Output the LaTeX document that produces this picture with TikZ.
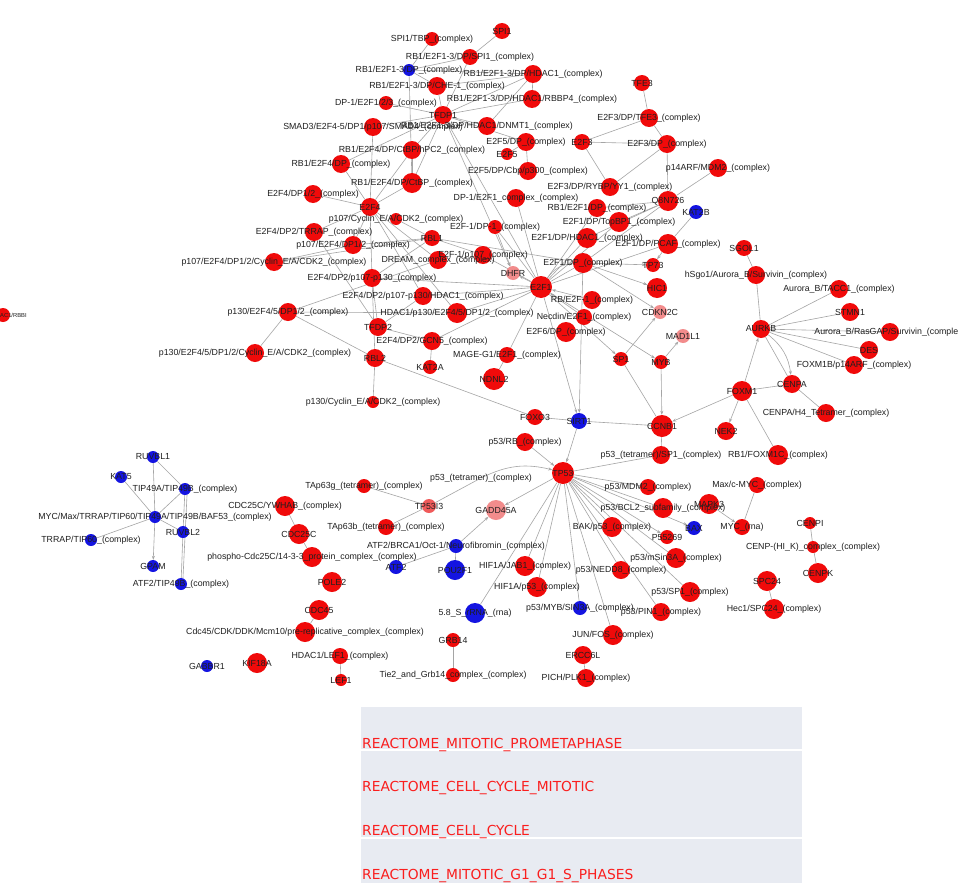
\documentclass[tikz,border=0pt]{standalone}
\usepackage{fontspec}
\setmainfont{Liberation Sans}
\newfontfamily\legfont{DejaVu Sans}
\usetikzlibrary{arrows.meta}
\pgfdeclarelayer{bg}\pgfdeclarelayer{fg}\pgfsetlayers{bg,main,fg}
\definecolor{nR}{RGB}{240,10,10}
\definecolor{nB}{RGB}{20,20,225}
\definecolor{nL}{RGB}{242,140,140}
\definecolor{nM}{RGB}{240,90,90}
\definecolor{edgec}{RGB}{165,165,165}
\definecolor{legbg}{RGB}{232,235,242}
\definecolor{legtx}{RGB}{250,30,30}
\newcommand\lblfont{\fontsize{8.8}{9}\selectfont}
\newcommand\gn[6]{%
 \node[dot, minimum size=#4*2pt, fill=#5] (#1) at (#2,-#3) {};%
 \begin{pgfonlayer}{fg}\node[lbl] at (#2,-#3) {#6};\end{pgfonlayer}}
\newcommand\gE[2]{\draw[edge] (#1) -- (#2);}
\newcommand\gA[2]{\draw[edge,arr] (#1) -- (#2);}
\begin{document}
\begin{tikzpicture}[x=1pt,y=1pt,
 dot/.style={circle, inner sep=0pt, draw=none},
 lbl/.style={font=\lblfont, text=black!88, inner sep=0pt},
 edge/.style={draw=edgec, line width=0.6pt},
 arr/.style={-{Stealth[length=4pt,width=3pt]}},
 legtext/.style={font=\legfont\fontsize{13.8}{14}\selectfont, text=legtx, anchor=base west, inner sep=0pt}]
\useasboundingbox (0,0) rectangle (958,-883);
\begin{pgfonlayer}{bg}
\fill[white] (0,0) rectangle (958,-883);
\end{pgfonlayer}
% ---------- top cluster
\gn{spiTBP}{432}{39}{7}{nR}{SPI1/TBP\_(complex)}
\gn{spi1}{502}{31}{8}{nR}{SPI1}
\gn{rbSPI}{470}{57}{8}{nR}{RB1/E2F1-3/DP/SPI1\_(complex)}
\gn{rbDP}{409}{70}{6}{nB}{RB1/E2F1-3/DP\_(complex)}
\gn{rbHDAC}{533}{74}{9}{nR}{RB1/E2F1-3/DP/HDAC1\_(complex)}
\gn{rbCHE}{437}{86}{9}{nR}{RB1/E2F1-3/DP/CHE-1\_(complex)}
\gn{rbRBBP}{532}{99}{9}{nR}{RB1/E2F1-3/DP/HDAC1/RBBP4\_(complex)}
\gn{dpOTT}{386}{103}{7}{nR}{DP-1/E2F1/2/3\_(complex)}
\gn{tfdp1}{443}{115}{9}{nR}{TFDP1}
\gn{smad}{373}{127}{9}{nR}{SMAD3/E2F4-5/DP1/p107/SMAD4\_(complex)}
\gn{dnmt}{487}{126}{9}{nR}{RB1/E2F1-3/DP/HDAC1/DNMT1\_(complex)}
\gn{hpc}{412}{150}{9}{nR}{RB1/E2F4/DP/CtBP/hPC2\_(complex)}
\gn{rbEfDP}{341}{164}{9}{nR}{RB1/E2F4/DP\_(complex)}
\gn{tfe}{642}{83}{8}{nR}{TFE3}
\gn{efTFE}{649}{118}{9}{nR}{E2F3/DP/TFE3\_(complex)}
\gn{efthree}{582}{142}{8}{nR}{E2F3}
\gn{efthreeDP}{667}{144}{9}{nR}{E2F3/DP\_(complex)}
\gn{effiveDP}{526}{142}{9}{nR}{E2F5/DP\_(complex)}
\gn{effive}{507}{154}{6}{nR}{E2F5}
\gn{cbp}{528}{171}{9}{nR}{E2F5/DP/Cbp/p300\_(complex)}
\gn{parf}{718}{168}{9}{nR}{p14ARF/MDM2\_(complex)}
\gn{effourDP}{313}{194}{9}{nR}{E2F4/DP1/2\_(complex)}
\gn{effour}{370}{207}{9}{nR}{E2F4}
\gn{pcyc}{396}{219}{6}{nR}{p107/Cyclin\_E/A/CDK2\_(complex)}
\gn{trrap}{314}{232}{9}{nR}{E2F4/DP2/TRRAP\_(complex)}
\gn{pef}{353}{245}{9}{nR}{p107/E2F4/DP1/2\_(complex)}
\gn{pcycb}{274}{262}{9}{nR}{p107/E2F4/DP1/2/Cyclin\_E/A/CDK2\_(complex)}
\gn{dptwo}{372}{278}{9}{nR}{E2F4/DP2/p107-p130\_(complex)}
\gn{pdp}{288}{312}{9}{nR}{p130/E2F4/5/DP1/2\_(complex)}
\gn{hdacp}{457}{313}{10}{nR}{HDAC1/p130/E2F4/5/DP1/2\_(complex)}
\gn{dptwoh}{423}{296}{9}{nR}{E2F4/DP2/p107-p130/HDAC1\_(complex)}
\gn{dream}{438}{260}{9}{nR}{DREAM\_complex\_(complex)}
\gn{gcn}{432}{341}{9}{nR}{E2F4/DP2/GCN5\_(complex)}
\gn{kata}{430}{367}{7}{nR}{KAT2A}
\gn{tfdp2}{378}{327}{9}{nR}{TFDP2}
\gn{rbl2}{375}{358}{9}{nR}{RBL2}
\gn{pccyc}{373}{402}{6}{nR}{p130/Cyclin\_E/A/CDK2\_(complex)}
\gn{pccycb}{255}{353}{9}{nR}{p130/E2F4/5/DP1/2/Cyclin\_E/A/CDK2\_(complex)}
\gn{ctbp}{412}{183}{10}{nR}{RB1/E2F4/DP/CtBP\_(complex)}
\gn{dpc}{516}{198}{9}{nR}{DP-1/E2F1\_complex\_(complex)}
\gn{rybp}{610}{187}{9}{nR}{E2F3/DP/RYBP/YY1\_(complex)}
\gn{qn}{668}{201}{10}{nR}{Q8N726}
\gn{katb}{696}{212}{7}{nB}{KAT2B}
\gn{rbedp}{597}{208}{9}{nR}{RB1/E2F1/DP\_(complex)}
\gn{topbp}{619}{222}{10}{nR}{E2F1/DP/TopBP1\_(complex)}
\gn{edpo}{495}{227}{7}{nR}{E2F-1/DP-1\_(complex)}
\gn{rbl1}{432}{238}{8}{nR}{RBL1}
\gn{ehdac}{587}{238}{10}{nR}{E2F1/DP/HDAC1\_(complex)}
\gn{pcaf}{668}{244}{10}{nR}{E2F1/DP/PCAF\_(complex)}
\gn{ep}{483}{255}{9}{nR}{E2F-1/p107\_(complex)}
\gn{edp}{583}{263}{10}{nR}{E2F1/DP\_(complex)}
\gn{tps}{653}{265}{7}{nR}{TP73}
\gn{dhfr}{513}{273}{7}{nL}{DHFR}
\gn{eone}{541}{287}{11}{nR}{E2F1}
\gn{hic}{657}{288}{10}{nR}{HIC1}
\gn{rbe}{592}{300}{9}{nR}{RB/E2F-1\_(complex)}
\gn{cdkn}{660}{312}{7}{nL}{CDKN2C}
\gn{necdin}{584}{317}{8}{nR}{Necdin/E2F1\_(complex)}
\gn{esix}{566}{332}{10}{nR}{E2F6/DP\_(complex)}
\gn{mad}{683}{336}{7}{nL}{MAD1L1}
\gn{spone}{621}{359}{7}{nR}{SP1}
\gn{myb}{661}{362}{7}{nR}{MYB}
\gn{mage}{507}{355}{8}{nR}{MAGE-G1/E2F1\_(complex)}
\gn{ndnl}{494}{379}{11}{nR}{NDNL2}
\gn{foxo}{535}{417}{8}{nR}{FOXO3}
\gn{sirt}{579}{421}{8}{nB}{SIRT1}
\gn{ccnb}{662}{426}{11}{nR}{CCNB1}
% ---------- right cluster
\gn{sgol}{744}{248}{8}{nR}{SGOL1}
\gn{hsgo}{756}{275}{9}{nR}{hSgo1/Aurora\_B/Survivin\_(complex)}
\gn{tacc}{839}{289}{9}{nR}{Aurora\_B/TACC1\_(complex)}
\gn{stmn}{850}{312}{9}{nR}{STMN1}
\gn{aurkb}{761}{329}{9}{nR}{AURKB}
\gn{rasgap}{890}{332}{9}{nR}{Aurora\_B/RasGAP/Survivin\_(complex)}
\gn{des}{869}{350}{9}{nR}{DES}
\gn{foxmb}{854}{365}{9}{nR}{FOXM1B/p14ARF\_(complex)}
\gn{cenpa}{792}{384}{9}{nR}{CENPA}
\gn{foxm}{742}{391}{10}{nR}{FOXM1}
\gn{hfour}{826}{413}{9}{nR}{CENPA/H4\_Tetramer\_(complex)}
\gn{nek}{726}{431}{9}{nR}{NEK2}
\gn{rbfox}{778}{455}{10}{nR}{RB1/FOXM1C\_(complex)}
% ---------- TP53 cluster
\gn{prb}{525}{442}{9}{nR}{p53/RB\_(complex)}
\gn{ptsp}{661}{455}{9}{nR}{p53\_(tetramer)/SP1\_(complex)}
\gn{tp}{563}{473}{11}{nR}{TP53}
\gn{ptet}{481}{478}{1}{none}{p53\_(tetramer)\_(complex)}
\gn{pmdm}{648}{487}{8}{nR}{p53/MDM2\_(complex)}
\gn{gadd}{496}{510}{10}{nL}{GADD45A}
\gn{mapk}{709}{504}{10}{nR}{MAPK3}
\gn{bcl}{663}{508}{10}{nR}{p53/BCL2\_subfamily\_(complex)}
\gn{bax}{694}{528}{7}{nB}{BAX}
\gn{mycr}{742}{527}{8}{nR}{MYC\_(rna)}
\gn{maxmyc}{757}{485}{8}{nR}{Max/c-MYC\_(complex)}
\gn{bak}{612}{527}{10}{nR}{BAK/p53\_(complex)}
\gn{pfive}{667}{537}{7}{nR}{P55269}
\gn{msin}{676}{558}{10}{nR}{p53/mSin3A\_(complex)}
\gn{jab}{525}{566}{10}{nR}{HIF1A/JAB1\_(complex)}
\gn{nedd}{621}{570}{9}{nR}{p53/NEDD8\_(complex)}
\gn{hifp}{537}{587}{10}{nR}{HIF1A/p53\_(complex)}
\gn{psp}{690}{592}{10}{nR}{p53/SP1\_(complex)}
\gn{rrna}{475}{613}{10}{nB}{5.8\_S\_rRNA\_(rna)}
\gn{pmyb}{580}{608}{7}{nB}{p53/MYB/SIN3A\_(complex)}
\gn{pin}{661}{612}{9}{nR}{p53/PIN1\_(complex)}
\gn{jun}{613}{635}{10}{nR}{JUN/FOS\_(complex)}
\gn{ercc}{583}{655}{9}{nR}{ERCC6L}
\gn{pich}{586}{678}{9}{nR}{PICH/PLK1\_(complex)}
\gn{grb}{453}{640}{7}{nR}{GRB14}
\gn{tie}{453}{675}{7}{nR}{Tie2\_and\_Grb14\_complex\_(complex)}
% ---------- middle left
\gn{tapg}{364}{486}{7}{nR}{TAp63g\_(tetramer)\_(complex)}
\gn{tpi}{429}{506}{7}{nM}{TP53I3}
\gn{cdcy}{285}{506}{10}{nR}{CDC25C/YWHAB\_(complex)}
\gn{tapb}{386}{527}{8}{nR}{TAp63b\_(tetramer)\_(complex)}
\gn{cdc}{299}{534}{10}{nR}{CDC25C}
\gn{atfb}{456}{546}{7}{nB}{ATF2/BRCA1/Oct-1/Neurofibromin\_(complex)}
\gn{phos}{312}{557}{10}{nR}{phospho-Cdc25C/14-3-3\_protein\_complex\_(complex)}
\gn{atf}{396}{567}{7}{nB}{ATF2}
\gn{pou}{455}{570}{10}{nB}{POU2F1}
\gn{pole}{332}{582}{10}{nR}{POLE2}
\gn{cdcff}{319}{610}{10}{nR}{CDC45}
\gn{cdcffc}{305}{632}{10}{nR}{Cdc45/CDK/DDK/Mcm10/pre-replicative\_complex\_(complex)}
\gn{hlef}{340}{656}{8}{nR}{HDAC1/LEF1\_(complex)}
\gn{lef}{341}{680}{6}{nR}{LEF1}
\gn{kif}{257}{663}{10}{nR}{KIF18A}
\gn{gab}{207}{666}{6}{nB}{GABBR1}
% ---------- left cluster
\node[dot, minimum size=14pt, fill=nR] (hrb) at (3,-315) {};
\begin{pgfonlayer}{fg}\node[font=\fontsize{5.8}{6}\selectfont, text=black!88, inner sep=0pt, anchor=west] at (0,-315) {AC1/RBBI};\end{pgfonlayer}
\gn{ruvo}{153}{457}{6}{nB}{RUVBL1}
\gn{katf}{121}{477}{6}{nB}{KAT5}
\gn{tip}{185}{489}{6}{nB}{TIP49A/TIP49B\_(complex)}
\gn{mycmax}{155}{517}{6}{nB}{MYC/Max/TRRAP/TIP60/TIP49A/TIP49B/BAF53\_(complex)}
\gn{ruvt}{183}{532}{6}{nB}{RUVBL2}
\gn{trs}{91}{540}{6}{nB}{TRRAP/TIP60\_(complex)}
\gn{gpam}{153}{566}{6}{nB}{GPAM}
\gn{atft}{181}{584}{6}{nB}{ATF2/TIP49B\_(complex)}
% ---------- right bottom
\gn{cenpi}{810}{523}{6}{nR}{CENPI}
\gn{cenphk}{813}{547}{6}{nR}{CENP-(HI\_K)\_complex\_(complex)}
\gn{cenpk}{818}{573}{10}{nR}{CENPK}
\gn{spc}{767}{581}{10}{nR}{SPC24}
\gn{hec}{774}{609}{10}{nR}{Hec1/SPC24\_(complex)}
% ================= edges
\begin{pgfonlayer}{bg}
\gE{spi1}{rbSPI}\gE{spiTBP}{rbDP}\gE{rbDP}{rbSPI}\gE{rbDP}{rbHDAC}\gE{rbDP}{rbCHE}\gE{rbDP}{ctbp}
\gE{rbHDAC}{rbRBBP}\gE{rbHDAC}{rbCHE}\gE{rbHDAC}{tfdp1}\gE{rbHDAC}{dnmt}\gE{rbRBBP}{tfdp1}
\gE{tfdp1}{dpOTT}\gE{tfdp1}{smad}\gE{tfdp1}{rbCHE}\gE{tfdp1}{rbSPI}\gE{tfdp1}{dnmt}\gE{tfdp1}{hpc}
\gE{tfdp1}{rbEfDP}\gE{tfdp1}{eone}\gE{tfdp1}{effiveDP}\gE{tfdp1}{ctbp}\gA{tfdp1}{dhfr}
\gE{smad}{effour}\gE{rbEfDP}{effour}\gE{hpc}{effour}\gE{hpc}{ctbp}\gE{ctbp}{effour}
\gE{effourDP}{effour}\gE{trrap}{effour}\gE{pef}{effour}\gE{effour}{dptwo}\gE{effour}{dream}
\gE{effour}{dptwoh}\gE{effour}{hdacp}
\gE{rbl1}{pcyc}\gE{rbl1}{pef}\gE{rbl1}{pcycb}\gE{rbl1}{ep}\gE{rbl1}{dptwo}\gE{rbl1}{edp}
\gE{pcycb}{pef}\gE{trrap}{tfdp2}\gE{dptwo}{tfdp2}\gE{dptwo}{rbl2}\gE{dptwo}{eone}
\gE{pdp}{pccycb}\gE{pdp}{rbl2}\gE{pdp}{hdacp}\gE{pdp}{dream}
\gE{hdacp}{eone}\gE{dptwoh}{eone}\gE{dptwoh}{tfdp2}\gE{gcn}{tfdp2}\gE{gcn}{kata}\gE{gcn}{eone}
\gE{rbl2}{pccyc}\gE{rbl2}{foxo}\gE{mage}{eone}\gE{mage}{ndnl}\gE{foxo}{sirt}
\gA{sirt}{tp}\gE{sirt}{ccnb}\gA{edp}{sirt}\gA{eone}{sirt}
\gA{edpo}{dhfr}\gA{eone}{dhfr}\gE{eone}{edpo}\gE{eone}{ep}\gE{eone}{dpc}\gE{eone}{rbedp}
\gE{eone}{topbp}\gE{eone}{ehdac}\gE{eone}{pcaf}\gE{eone}{edp}
\draw[edge,arr] (eone) to[bend left=25] (edp);
\gA{rbe}{eone}\gA{necdin}{eone}\gA{eone}{spone}\gA{eone}{myb}
\gA{edp}{tps}\gA{pcaf}{tps}\gE{katb}{pcaf}\gA{edp}{hic}\gA{edp}{cdkn}\gA{spone}{cdkn}
\gA{myb}{mad}\gA{myb}{ccnb}\gE{spone}{ccnb}\gA{foxm}{ccnb}\gE{ccnb}{ptsp}
\gE{qn}{efthreeDP}\gE{qn}{parf}\gE{qn}{rbedp}\gE{qn}{topbp}\gE{qn}{ehdac}\gE{qn}{edp}
\gE{tfe}{efTFE}\gE{efTFE}{efthree}\gE{efTFE}{efthreeDP}\gE{efthree}{efthreeDP}\gE{efthree}{rybp}
\gE{efthreeDP}{rybp}\gE{effive}{effiveDP}\gE{effiveDP}{cbp}
\gE{sgol}{hsgo}\gE{hsgo}{aurkb}\gE{aurkb}{tacc}\gE{aurkb}{stmn}\gE{aurkb}{rasgap}\gE{aurkb}{des}
\gE{aurkb}{foxmb}\gE{aurkb}{cenpa}\draw[edge,arr] (aurkb) to[bend left=22] (cenpa);
\gA{foxm}{aurkb}\gE{foxm}{cenpa}\gE{cenpa}{hfour}\gA{foxm}{nek}\gE{foxm}{rbfox}
\gA{prb}{tp}\gE{ptsp}{tp}\gE{tp}{pmdm}\gE{tp}{bcl}\gA{tp}{bax}\gE{tp}{bak}\gA{tp}{pfive}
\gE{tp}{msin}\gE{tp}{jab}\gE{tp}{nedd}\gE{tp}{hifp}\gE{tp}{psp}\gE{tp}{rrna}\gE{tp}{pmyb}
\gE{tp}{pin}\gE{tp}{jun}\gA{tp}{gadd}\gA{atfb}{gadd}\gE{atfb}{pou}\gE{atf}{atfb}
\draw[edge,arr] (ptet) to[bend left=20] (tp);
\gE{tpi}{ptet}\gE{tapg}{tpi}\gE{tapb}{tpi}
\gE{cdcy}{cdc}\gE{cdc}{phos}\gE{cdcff}{cdcffc}\gE{grb}{tie}\gE{ercc}{pich}\gE{hlef}{lef}
\gE{maxmyc}{mycr}\gA{mapk}{mycr}
\gE{cenpi}{cenphk}\gE{cenphk}{cenpk}\gE{spc}{hec}
\gE{ruvo}{mycmax}\gE{ruvo}{tip}\gE{katf}{mycmax}\gE{tip}{mycmax}\gE{tip}{ruvt}\gE{ruvt}{atft}
\draw[edge] ([xshift=2pt]tip.south) -- ([xshift=2pt]atft.north);
\gE{mycmax}{ruvt}\gE{mycmax}{trs}\gA{mycmax}{gpam}
\end{pgfonlayer}
% ================= legend
\fill[legbg] (361,-707) rectangle (802,-883);
\draw[white, line width=1.2pt] (361,-750) -- (802,-750);
\draw[white, line width=1.2pt] (361,-838) -- (802,-838);
\node[legtext] (la) at (362,-748) {REACTOME\_MITOTIC\_PROMETAPHASE};
\node[legtext] (lb) at (362,-791.7) {REACTOME\_CELL\_CYCLE\_MITOTIC};
\node[legtext] (lc) at (362,-835.7) {REACTOME\_CELL\_CYCLE};
\node[legtext] (ld) at (362,-879) {REACTOME\_MITOTIC\_G1\_G1\_S\_PHASES};
\end{tikzpicture}
\end{document}
